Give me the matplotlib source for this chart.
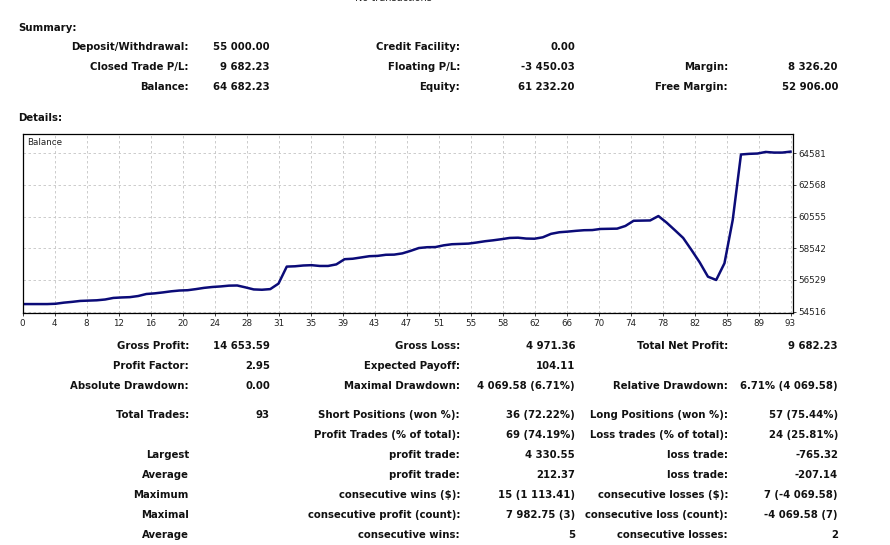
import numpy as np
import matplotlib
matplotlib.use("Agg")
import matplotlib.pyplot as plt

W, H = 890, 545

# balance after each closed trade
balance = [
    55000, 55000, 55000, 55000, 55020, 55090, 55140, 55200, 55220, 55240,
    55290, 55390, 55420, 55440, 55510, 55640, 55680, 55740, 55810, 55860,
    55880, 55950, 56030, 56085, 56120, 56170, 56180, 56060, 55930, 55910,
    55950, 56300, 57380, 57400, 57450, 57470, 57420, 57420, 57520, 57850,
    57880, 57960, 58040, 58060, 58130, 58140, 58220, 58380, 58560, 58610,
    58620, 58730, 58800, 58820, 58840, 58910, 58990, 59050, 59120, 59200,
    59215, 59160, 59150, 59240, 59460, 59560, 59600, 59650, 59690, 59700,
    59770, 59780, 59790, 59960, 60290, 60300, 60310, 60590, 60170, 59690,
    59200, 58440, 57650, 56740, 56530, 57590, 60340, 64500, 64540, 64560,
    64660, 64620, 64620, 64680,
]
x_tick_labels = ["0", "4", "8", "12", "16", "20", "24", "28", "31", "35", "39",
                 "43", "47", "51", "55", "58", "62", "66", "70", "74", "78",
                 "82", "85", "89", "93"]
y_ticks = [54516, 56529, 58542, 60555, 62568, 64581]

# summary block: (label, value) per column, one list per row
summary_rows = [
    [("Deposit/Withdrawal:", "55 000.00"), ("Credit Facility:", "0.00"), None],
    [("Closed Trade P/L:", "9 682.23"), ("Floating P/L:", "-3 450.03"), ("Margin:", "8 326.20")],
    [("Balance:", "64 682.23"), ("Equity:", "61 232.20"), ("Free Margin:", "52 906.00")],
]
summary_y = [47, 67, 87]

details_rows = [
    [("Gross Profit:", "14 653.59"), ("Gross Loss:", "4 971.36"), ("Total Net Profit:", "9 682.23")],
    [("Profit Factor:", "2.95"), ("Expected Payoff:", "104.11"), None],
    [("Absolute Drawdown:", "0.00"), ("Maximal Drawdown:", "4 069.58 (6.71%)"),
     ("Relative Drawdown:", "6.71% (4 069.58)")],
    [("Total Trades:", "93"), ("Short Positions (won %):", "36 (72.22%)"),
     ("Long Positions (won %):", "57 (75.44%)")],
    [None, ("Profit Trades (% of total):", "69 (74.19%)"), ("Loss trades (% of total):", "24 (25.81%)")],
    [("Largest", ""), ("profit trade:", "4 330.55"), ("loss trade:", "-765.32")],
    [("Average", ""), ("profit trade:", "212.37"), ("loss trade:", "-207.14")],
    [("Maximum", ""), ("consecutive wins ($):", "15 (1 113.41)"), ("consecutive losses ($):", "7 (-4 069.58)")],
    [("Maximal", ""), ("consecutive profit (count):", "7 982.75 (3)"), ("consecutive loss (count):", "-4 069.58 (7)")],
    [("Average", ""), ("consecutive wins:", "5"), ("consecutive losses:", "2")],
]
details_y = [346, 366, 386, 415, 435, 455, 475, 495, 515, 535]

label_x = [189, 460, 728]
value_x = [270, 575, 838]

fig = plt.figure(figsize=(W / 100, H / 100), dpi=100)
fig.patch.set_facecolor("white")

FS = 7.3
txt_kw = dict(fontsize=FS, fontweight="bold", color="#111111", family="DejaVu Sans")


def px(x, y):
    return x / W, 1 - y / H


def put_rows(rows, ys):
    for row, y in zip(rows, ys):
        for col, cell in enumerate(row):
            if cell is None:
                continue
            lab, val = cell
            fig.text(*px(label_x[col], y), lab, ha="right", va="center", **txt_kw)
            if val:
                fig.text(*px(value_x[col], y), val, ha="right", va="center", **txt_kw)


fig.text(*px(393, -2), "No transactions", ha="center", va="center",
         fontsize=7, color="#222222")
fig.text(*px(18, 28), "Summary:", ha="left", va="center", **txt_kw)
put_rows(summary_rows, summary_y)
fig.text(*px(18, 118), "Details:", ha="left", va="center", **txt_kw)
put_rows(details_rows, details_y)

# chart
left, right, top, bottom = 22.5, 793, 134, 313
ax = fig.add_axes([left / W, 1 - bottom / H, (right - left) / W, (bottom - top) / H])
n = np.arange(len(balance))
ax.plot(n, balance, color="#0b0b78", lw=1.8, solid_joinstyle="round")
ax.set_xlim(0, 93.3)
ax.set_ylim(54433, 65800)

ax.set_xticks(np.arange(len(x_tick_labels)) * 93 / 24)
ax.set_xticklabels(x_tick_labels)
ax.set_yticks(y_ticks)
ax.yaxis.tick_right()
ax.tick_params(axis="both", labelsize=6.3, colors="#222222", length=2, width=0.6, pad=2)
ax.grid(True, color="#c4c4c4", linestyle=(0, (3, 3)), linewidth=0.6)
for s in ax.spines.values():
    s.set_linewidth(0.9)
    s.set_color("black")
ax.text(0.006, 0.975, "Balance", transform=ax.transAxes, ha="left", va="top",
        fontsize=6.3, color="#222222")

fig.savefig("out.png", dpi=100, facecolor="white")
